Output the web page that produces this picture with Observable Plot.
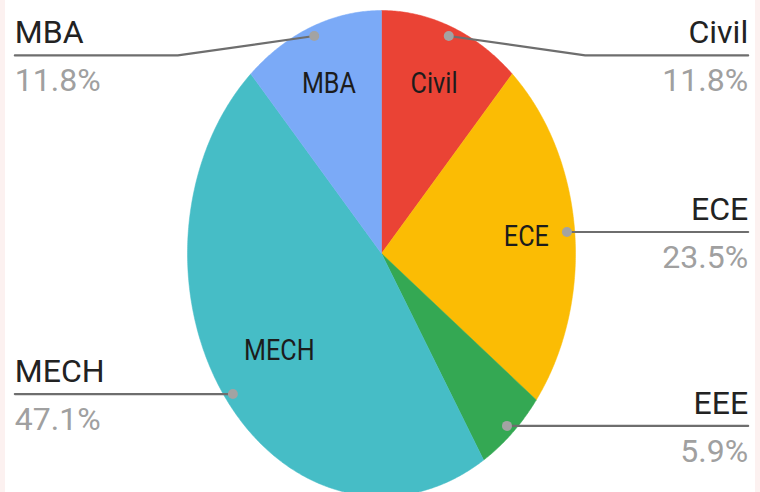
<!DOCTYPE html>
<html>
<head>
<meta charset="utf-8">
<script src="https://cdn.jsdelivr.net/npm/d3@7"></script>
<script src="https://cdn.jsdelivr.net/npm/@observablehq/plot@0.6"></script>
<style>
  html, body { margin: 0; padding: 0; background: #fcf1f0; }
  #chart { width: 750px; height: 492px; margin-left: 5px; background: #ffffff; overflow: hidden; }
  #chart svg { display: block; background: #ffffff; font-family: Roboto, "Noto Sans", sans-serif; }
</style>
</head>
<body>
<div id="chart"></div>
<script>
// ---- data ----
const names  = ["Civil", "ECE", "EEE", "MECH", "MBA"];
const counts = [2, 4, 1, 8, 2];
const colors = ["#ea4335", "#fbbc04", "#34a853", "#46bdc6", "#7baaf7"];
const innerLabelled = ["Civil", "ECE", "MECH", "MBA"];

// ---- layout ----
const W = 750, H = 492;
const cx = 376, cy = 253, rx = 194, ry = 243;

const rows = names.map((name, i) => ({name, count: counts[i]}));
const total = d3.sum(counts);
const fmt = d3.format(".1%");
const arcs = d3.pie().sort(null).value(d => d.count)(rows);

// slice outlines (unit circle, y up; stretched by the x/y scales)
const slicePts = [];
arcs.forEach(a => {
  const name = a.data.name;
  const n = Math.max(2, Math.ceil((a.endAngle - a.startAngle) / (Math.PI / 360)));
  slicePts.push({name, x: 0, y: 0});
  for (let k = 0; k <= n; k++) {
    const t = a.startAngle + (a.endAngle - a.startAngle) * k / n;
    slicePts.push({name, x: Math.sin(t), y: Math.cos(t)});
  }
  slicePts.push({name, x: 0, y: 0});
});

const mids = arcs.map(a => {
  const m = (a.startAngle + a.endAngle) / 2;
  return {name: a.data.name, value: a.data.count, sx: Math.sin(m), sy: Math.cos(m)};
});

const inner = mids.filter(d => innerLabelled.includes(d.name))
  .map(d => {
    const r = d.value / total > 0.4 ? 0.66 : 0.75;
    return {name: d.name, x: d.sx * r, y: d.sy * r};
  });

const dots = mids.map(d => ({name: d.name, x: d.sx * 0.96, y: d.sy * 0.96}));

const outerX = 1.89, bendX = 1.05, topY = 0.815;
const leaders = [];
const outerLabels = [];
mids.forEach(d => {
  const side = d.sx >= 0 ? 1 : -1;
  const x0 = d.sx * 0.96, y0 = d.sy * 0.96;
  leaders.push({name: d.name, x: x0, y: y0});
  let ly = y0;
  if (y0 > 0.75) {
    ly = topY;
    leaders.push({name: d.name, x: side * bendX, y: ly});
  }
  leaders.push({name: d.name, x: side * outerX, y: ly});
  outerLabels.push({name: d.name, pct: fmt(d.value / total), x: side * outerX, y: ly,
                    anchor: side > 0 ? "end" : "start"});
});

const condensed = (index, scales, values, dims, context, next) => {
  const g = next(index, scales, values, dims, context);
  d3.select(g).selectAll("text").each(function () {
    const t = this.getAttribute("transform") || "";
    this.setAttribute("transform", t + " scale(0.84,1)");
  });
  return g;
};

const leftL = outerLabels.filter(d => d.anchor === "start");
const rightL = outerLabels.filter(d => d.anchor === "end");

const chart = Plot.plot({
  width: W,
  height: H,
  margin: 0,
  style: {background: "#ffffff", fontFamily: "Roboto, 'Noto Sans', sans-serif"},
  x: {domain: [-1, 1], range: [cx - rx, cx + rx], axis: null},
  y: {domain: [-1, 1], range: [cy + ry, cy - ry], axis: null},
  color: {domain: names, range: colors},
  marks: [
    Plot.line(slicePts, {x: "x", y: "y", z: "name", fill: "name", stroke: "name", strokeWidth: 0.5, curve: "linear"}),
    Plot.text(inner, {x: "x", y: "y", text: "name", fill: "#1c1c1c", fontSize: 30, lineAnchor: "middle", textAnchor: "middle", render: condensed}),
    Plot.line(leaders, {x: "x", y: "y", z: "name", stroke: "#6e6e6e", strokeWidth: 2.2, curve: "linear"}),
    Plot.dot(dots, {x: "x", y: "y", r: 5, fill: "#a3a3a3", stroke: null}),
    Plot.text(leftL, {x: "x", y: "y", text: "name", textAnchor: "start", lineAnchor: "bottom", dy: -12, fontSize: 32, fill: "#222222"}),
    Plot.text(leftL, {x: "x", y: "y", text: "pct", textAnchor: "start", lineAnchor: "top", dy: 13, fontSize: 32, fill: "#a0a0a0"}),
    Plot.text(rightL, {x: "x", y: "y", text: "name", textAnchor: "end", lineAnchor: "bottom", dy: -12, fontSize: 32, fill: "#222222"}),
    Plot.text(rightL, {x: "x", y: "y", text: "pct", textAnchor: "end", lineAnchor: "top", dy: 13, fontSize: 32, fill: "#a0a0a0"})
  ]
});

document.getElementById("chart").appendChild(chart);
</script>
</body>
</html>
